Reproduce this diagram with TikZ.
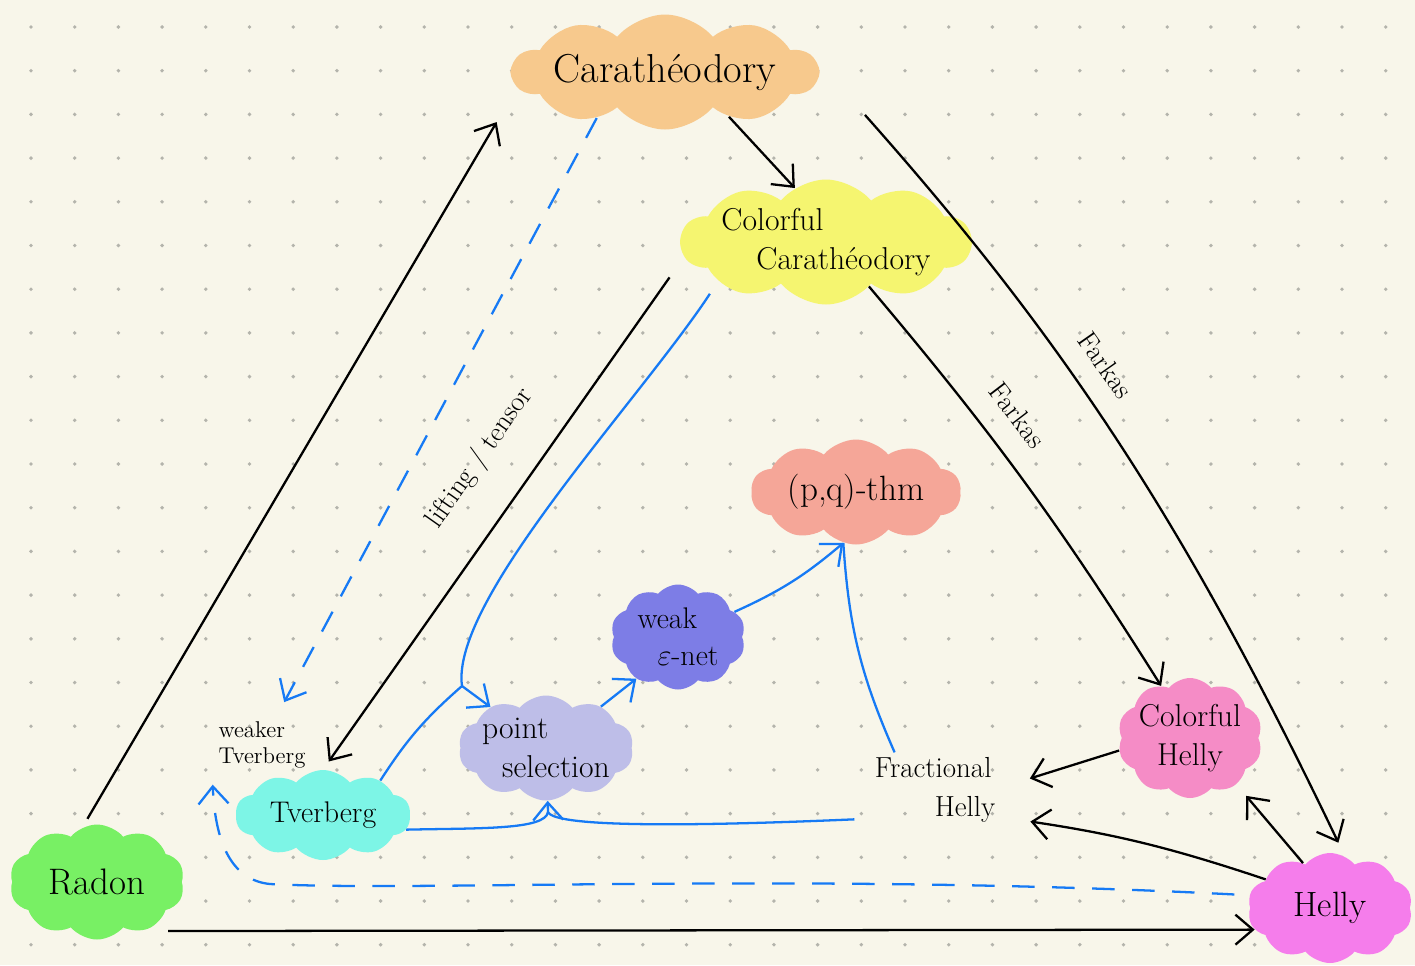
\documentclass[tikz,border=0pt]{standalone}
\usepackage{amsmath}
\usepackage{fontspec}
\usetikzlibrary{shapes.symbols}
\usetikzlibrary{arrows.meta}

\definecolor{bgC}{RGB}{248,246,234}
\definecolor{dotC}{RGB}{180,180,172}
\definecolor{caraC}{RGB}{247,201,141}
\definecolor{ccaraC}{RGB}{245,245,112}
\definecolor{pqC}{RGB}{245,166,152}
\definecolor{enetC}{RGB}{125,125,230}
\definecolor{pselC}{RGB}{190,190,232}
\definecolor{tvC}{RGB}{125,245,230}
\definecolor{radonC}{RGB}{120,240,100}
\definecolor{hellyC}{RGB}{245,125,235}
\definecolor{chellyC}{RGB}{245,140,198}
\definecolor{lineC}{RGB}{22,122,245}

\begin{document}
\begin{tikzpicture}[x=0.02cm, y=-0.02cm,
		>={Straight Barb[length=3.5mm, width=6mm]},
		blob/.style={cloud, cloud puffs=10, cloud puff arc=100, cloud ignores aspect, inner sep=0pt},
		big/.style={font=\fontsize{18}{22}\selectfont},
		ink/.style={line width=1.3pt, black},
		bink/.style={line width=1.3pt, lineC},
		dsh/.style={dash pattern=on 4.5mm off 3.5mm},
		lbl/.style={font=\fontsize{16}{18}\selectfont, sloped, above=3.5mm}]

	\useasboundingbox (0,0) rectangle (1415,965);
	\fill[bgC] (0,0) rectangle (1415,965);
	\foreach \i in {0,...,31}
		\foreach \j in {0,...,21}
			\fill[dotC] (31+43.7*\i, 27+43.7*\j) circle[radius=1.1pt];

	% clouds
	\node[blob, fill=caraC, minimum width=6.1cm, minimum height=2.3cm,
		label={[font=\fontsize{23}{26}\selectfont]center:Carathéodory}] (cara) at (665,72) {};
	\node[blob, fill=ccaraC, minimum width=5.8cm, minimum height=2.5cm,
		label={[big, align=left]center:{Colorful\\\hspace*{0.7cm}Carathéodory}}] (ccara) at (826,242) {};
	\node[blob, fill=pqC, minimum width=4.2cm, minimum height=2.1cm,
		label={[font=\fontsize{20}{24}\selectfont]center:(p,q)-thm}] (pq) at (856,492) {};
	\node[blob, fill=enetC, minimum width=2.7cm, minimum height=2.1cm,
		label={[font=\fontsize{17}{21}\selectfont, align=left]center:{weak\\\hspace*{0.4cm}$\varepsilon$-net}}] (enet) at (678,637) {};
	\node[blob, fill=pselC, minimum width=3.5cm, minimum height=2.1cm,
		label={[big, align=left]center:{point\\\hspace*{0.4cm}selection}}] (psel) at (546,748) {};
	\node[blob, fill=tvC, minimum width=3.5cm, minimum height=1.8cm,
		label={[font=\fontsize{17}{21}\selectfont]center:Tverberg}] (tv) at (323,815) {};
	\node[blob, fill=radonC, minimum width=3.5cm, minimum height=2.3cm,
		label={[font=\fontsize{21}{25}\selectfont]center:Radon}] (radon) at (97,882) {};
	\node[blob, fill=hellyC, minimum width=3.3cm, minimum height=2.2cm,
		label={[font=\fontsize{20}{24}\selectfont]center:Helly}] (helly) at (1330,908) {};
	\node[blob, fill=chellyC, minimum width=2.9cm, minimum height=2.4cm,
		label={[big, align=center]center:{Colorful\\Helly}}] (chelly) at (1190,738) {};

	% plain labels
	\node[font=\fontsize{13}{15}\selectfont, align=left] (wtv) at (262,745) {weaker\\Tverberg};
	\node[font=\fontsize{16.5}{22}\selectfont, align=left, inner xsep=0.4cm, inner ysep=0.1cm] (frac) at (935,790) {Fractional\\\hspace*{1.2cm}Helly};

	\coordinate (jn) at (462,686);
	\coordinate (jb) at (548,812);

	% black arrows
	\draw[ink, ->, shorten <=2mm, shorten >=8mm] (radon.105) -- (cara.186);
	\draw[ink, ->, shorten <=6mm] (radon.-50) -- (helly.196);
	\draw[ink, ->, shorten <=15mm, shorten >=3mm] (cara.5) to[bend left=8] node[lbl, pos=0.43] {Farkas} (helly.74);
	\draw[ink, ->] (cara.-35) -- (ccara.120);
	\draw[ink, ->] (ccara.-46) to[bend left=4] node[lbl, pos=0.38] {Farkas} (chelly.119);
	\draw[ink, ->, shorten <=5mm, shorten >=2mm] (ccara.186) -- node[lbl, pos=0.45, above=2.5mm] {lifting / tensor} (tv.90);
	\draw[ink, ->, shorten >=3mm] (helly.121) -- (chelly.-45);
	\draw[ink, ->, shorten >=3mm] (helly.156) to[bend right=5] (frac.-20);
	\draw[ink, ->, shorten >=3mm] (chelly.190) -- (frac.5);

	% blue arrows
	\draw[bink, dsh, ->, shorten >=3mm] (cara.214) -- (wtv.63);
	\draw[bink, dsh, ->, shorten <=3mm, shorten >=2mm] (helly.171) .. controls (800,872) and (420,892) .. (270,884)
		.. controls (230,880) and (215,840) .. (wtv.south west);
	\draw[bink, shorten <=3mm] (ccara.200) .. controls (640,400) and (450,600) .. (jn);
	\draw[bink] (tv.31) to[bend left=8] (jn);
	\draw[bink, ->] (jn) -- (psel);
	\draw[bink] (tv.-10) .. controls (480,828) and (545,830) .. (jb);
	\draw[bink] (frac.200) .. controls (700,826) and (555,828) .. (jb);
	\draw[bink, ->] (jb) -- (psel);
	\draw[bink, ->] (psel.37) -- (enet.225);
	\draw[bink, ->] (enet.24) to[bend right=8] (pq.256);
	\draw[bink] (frac.137) to[bend left=10] (pq.256);
\end{tikzpicture}
\end{document}
